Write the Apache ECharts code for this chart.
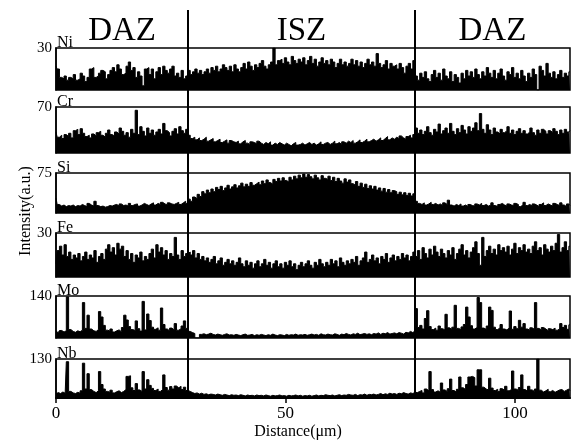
<!DOCTYPE html>
<html>
<head>
<meta charset="utf-8">
<script src="https://cdn.jsdelivr.net/npm/echarts@6/dist/echarts.min.js"></script>
<style>
html,body{margin:0;padding:0;background:#fff;}
#chart{width:576px;height:442px;}
</style>
</head>
<body>
<div id="chart"></div>
<script>
// ---------- data ----------
const STEP = 0.5;            // sampling step of the line scan (µm)
const xMax = 112;            // µm
const xTicks = [0, 50, 100];
const zoneBounds = [28.8, 78.2];
const zoneNames = ['DAZ', 'ISZ', 'DAZ'];
const elements = ['Ni', 'Cr', 'Si', 'Fe', 'Mo', 'Nb'];
const yMax = [30, 70, 75, 30, 140, 130];

const ni = [17,15,9,8,10,7,9,8,11,7,
 8,12,10,6,9,15,16,9,10,12,
 14,13,8,11,14,16,13,18,15,11,
 12,17,20,14,16,9,13,10,3,15,
 16,11,15,8,13,16,11,17,14,12,
 15,17,10,12,9,14,8,10,
 14,11,13,15,12,14,11,13,15,12,
 16,14,17,13,15,18,16,14,17,13,
 18,15,13,16,19,15,20,17,14,18,
 16,19,21,17,15,18,20,30,18,21,
 22,19,23,20,18,24,21,19,22,20,
 23,18,21,24,19,22,17,20,23,19,
 21,18,22,20,16,19,22,18,20,17,
 19,22,18,21,17,20,16,19,22,18,
 20,17,26,19,16,18,21,15,19,17,
 18,15,19,16,12,17,19,15,21,
 10,7,12,9,13,8,6,11,14,
 9,12,7,15,10,8,13,6,11,9,
 5,12,8,14,10,13,9,15,11,8,
 13,10,16,12,9,14,8,12,15,10,
 7,13,11,16,9,12,8,14,10,6,
 12,9,15,11,0,17,14,10,19,12,
 9,13,8,11,14,9,12,10,13];

const cr = [32,24,27,22,28,25,30,23,34,36,
 28,37,30,25,27,23,29,26,31,33,
 27,24,30,35,28,26,32,29,38,33,
 27,31,24,36,30,65,28,40,33,26,
 38,30,35,27,32,36,29,45,34,31,
 26,33,37,29,40,34,30,36,
 27,22,24,20,23,19,21,24,18,20,
 22,17,19,21,16,18,20,15,19,17,
 16,18,14,17,19,15,13,17,16,14,
 18,15,13,16,14,17,12,15,13,16,
 14,12,15,13,11,14,16,12,13,15,
 12,14,16,13,15,12,14,17,13,15,
 16,13,15,18,14,16,13,17,15,18,
 16,19,15,17,20,16,18,21,17,19,
 21,18,20,23,19,22,25,20,23,21,
 24,22,26,23,21,25,27,23,28,
 38,30,35,28,33,40,31,27,36,
 32,44,29,34,38,30,45,33,28,37,
 31,42,35,29,40,33,38,46,34,60,
 36,30,43,35,28,38,32,29,36,31,
 34,40,30,35,28,33,37,30,34,29,
 32,38,31,27,35,30,36,33,29,34,
 31,37,33,28,35,30,36,32,34];

const si = [28,16,13,15,12,14,13,15,12,14,
 13,16,14,12,18,15,13,22,14,12,
 13,11,12,14,13,15,16,13,17,14,
 15,13,18,14,16,17,13,15,18,16,
 14,17,19,15,18,16,20,17,15,19,
 17,16,18,20,16,19,22,18,
 26,22,30,27,35,31,40,36,43,38,
 45,40,48,44,50,42,47,52,45,49,
 53,47,51,56,49,54,50,57,52,55,
 58,53,60,55,62,57,54,63,59,65,
 60,66,61,58,67,62,69,64,71,66,
 73,67,72,68,64,71,66,62,70,65,
 63,69,61,67,59,65,60,56,64,58,
 62,55,52,59,50,56,48,54,46,51,
 45,50,43,47,41,46,39,44,38,42,
 40,35,39,34,38,33,37,32,36,
 22,18,16,19,15,17,20,16,18,
 15,17,14,19,16,24,15,13,16,14,
 17,13,15,12,16,14,13,17,15,18,
 14,16,13,15,19,14,12,16,18,15,
 13,17,15,14,18,16,12,15,20,14,
 16,13,17,15,12,16,19,14,17,15,
 13,18,16,14,19,15,12,17,14];

const fe = [9,18,21,15,22,14,17,12,15,13,
 16,11,14,17,12,15,13,18,10,14,
 16,12,19,22,17,20,15,23,19,21,
 14,18,12,16,10,15,13,17,11,14,
 12,16,19,13,22,17,20,15,18,12,
 16,14,27,15,12,18,14,16,
 17,15,18,13,16,12,14,11,13,10,
 12,14,9,11,13,8,10,12,9,11,
 8,10,13,9,7,11,8,10,6,9,
 11,7,9,12,8,10,6,9,11,7,
 9,6,10,8,11,7,9,5,8,10,
 7,9,11,8,6,10,8,12,9,7,
 10,8,12,9,11,7,13,10,8,11,
 9,12,10,14,8,11,13,17,10,12,
 15,11,13,9,14,12,16,10,13,15,
 11,14,12,16,13,15,11,14,17,
 14,18,12,20,16,13,19,15,21,
 17,14,19,16,13,18,15,20,12,16,
 19,22,15,18,13,17,20,24,16,8,
 27,14,18,21,16,19,15,22,18,20,
 17,21,15,19,23,16,20,18,22,17,
 19,16,21,24,18,20,15,22,19,17,
 21,18,23,29,17,20,24,18,21];

const mo = [22,18,25,20,24,137,28,22,19,24,
 21,26,118,32,76,30,24,22,28,88,
 70,42,26,23,30,20,24,27,21,35,
 76,60,38,28,25,57,31,23,122,27,
 80,58,36,29,34,26,100,45,30,24,
 33,27,48,26,31,40,57,32,
 22,18,15,0,0,12,14,11,13,16,
 12,10,13,11,9,12,14,10,11,9,
 12,10,8,11,13,9,10,12,8,11,
 9,12,10,8,11,9,13,10,8,11,
 10,8,12,9,11,10,13,9,11,10,
 12,9,11,13,10,12,9,14,11,10,
 13,11,10,14,12,9,13,11,15,12,
 10,14,12,16,11,13,15,12,14,11,
 15,13,17,12,16,14,18,13,15,17,
 14,18,16,13,19,17,22,18,24,
 98,35,42,30,65,91,38,28,33,
 26,40,31,27,79,34,29,36,109,32,
 28,37,45,103,70,41,30,35,135,118,
 33,29,40,103,92,36,28,34,45,30,
 27,33,90,29,38,31,59,36,48,30,
 26,34,29,118,32,27,35,30,24,31,
 28,33,26,30,48,35,42,29,44];

const nb = [14,18,15,20,16,121,22,17,15,19,
 16,24,116,30,81,28,22,18,24,88,
 45,30,22,19,26,17,21,24,18,22,
 28,72,74,34,25,48,27,22,88,30,
 61,42,32,25,30,22,28,77,35,26,
 38,30,40,34,39,28,36,25,
 22,18,15,17,13,16,12,14,11,13,
 12,10,13,11,9,12,10,8,11,9,
 10,8,11,9,7,10,8,9,7,10,
 8,9,7,10,8,6,9,7,8,10,
 7,8,6,9,7,8,10,7,9,6,
 8,7,9,6,8,10,7,9,8,11,
 9,8,10,7,9,11,8,10,9,12,
 10,9,12,8,11,10,13,9,12,11,
 13,10,12,15,11,14,12,16,13,15,
 12,16,14,18,15,13,17,15,19,
 18,22,25,17,30,24,88,28,20,
 24,19,50,27,22,31,63,25,20,29,
 70,34,28,45,70,72,68,40,94,94,
 36,30,27,66,33,25,29,22,31,26,
 39,24,28,90,30,26,35,77,28,23,
 39,27,22,30,130,26,20,24,29,21,
 25,19,23,27,28,22,26,30,24];

const profiles = [ni, cr, si, fe, mo, nb];

// ---------- layout / style ----------
const FONT = "'Liberation Serif', 'DejaVu Serif', serif";
const panelTop = [48, 107, 173, 233, 296, 359];
const panelHeight = [42, 46, 40, 44, 42, 39];
const LEFT = 56, RIGHT = 6;

profiles.forEach((p, k) => { if (p.length !== 225) console.error(elements[k] + ' length ' + p.length); });

const grids = panelTop.map((t, i) => ({
  left: LEFT, right: RIGHT, top: t, height: panelHeight[i],
  show: true, borderColor: '#000', borderWidth: 1.5, backgroundColor: 'transparent'
}));
grids.push({ left: LEFT, right: RIGHT, top: 10, height: 388 });

const xAxes = profiles.map((p, i) => {
  const last = i === profiles.length - 1;
  return {
    type: 'value', gridIndex: i, min: 0, max: xMax, interval: xTicks[1] - xTicks[0],
    axisLine: { show: last, onZero: false, lineStyle: { color: '#000', width: 2 } },
    axisTick: { show: last, length: 5, lineStyle: { color: '#000', width: 1.5 } },
    axisLabel: { show: last, showMaxLabel: false, color: '#000', fontSize: 17, fontFamily: FONT, margin: 7 },
    splitLine: { show: false },
    name: last ? 'Distance(μm)' : '',
    nameLocation: 'middle', nameGap: 26,
    nameTextStyle: { color: '#000', fontSize: 16, fontFamily: FONT, padding: [0, 30, 0, 0] }
  };
});
xAxes.push({ type: 'value', gridIndex: 6, min: 0, max: xMax, show: false });

const yAxes = profiles.map((p, i) => ({
  type: 'value', gridIndex: i, min: 0, max: yMax[i], interval: yMax[i],
  axisLine: { show: true, lineStyle: { color: '#000', width: 1.5 } },
  axisTick: { show: false },
  splitLine: { show: false },
  axisLabel: { showMinLabel: false, color: '#000', fontSize: 15, fontFamily: FONT, margin: 4 }
}));
yAxes.push({
  type: 'value', gridIndex: 6, min: 0, max: 1,
  axisLine: { show: false }, axisTick: { show: false }, axisLabel: { show: false }, splitLine: { show: false },
  name: 'Intensity(a.u.)', nameLocation: 'middle', nameGap: 22, nameRotate: 90,
  nameTextStyle: { color: '#000', fontSize: 16, fontFamily: FONT, padding: [0, 14, 0, 0] }
});

const series = profiles.map((p, i) => ({
  type: 'line', xAxisIndex: i, yAxisIndex: i, step: 'middle',
  symbol: 'none', silent: true,
  lineStyle: { color: '#000', width: 1 },
  areaStyle: { color: '#000', opacity: 1 },
  data: p.map((v, j) => [j * STEP, v])
}));

const zoneEdges = [0].concat(zoneBounds, [xMax]);
series.push({
  type: 'line', xAxisIndex: 6, yAxisIndex: 6, data: [[0, 0]], symbol: 'none',
  lineStyle: { opacity: 0 }, silent: true, z: 10,
  markLine: {
    silent: true, symbol: ['none', 'none'], animation: false,
    lineStyle: { color: '#000', width: 2, type: 'solid' },
    label: { show: false },
    data: zoneBounds.map(b => ({ xAxis: b }))
  },
  markArea: {
    silent: true, itemStyle: { color: 'rgba(0,0,0,0)' },
    label: { show: true, position: 'insideTop', distance: 5, color: '#000', fontSize: 33, fontFamily: FONT },
    data: zoneNames.map((n, k) => [{ name: n, xAxis: zoneEdges[k] }, { xAxis: zoneEdges[k + 1] }])
  }
});

// element names sitting on each panel's top border
const graphic = elements.map((el, i) => ({
  type: 'text', x: LEFT + 1, y: panelTop[i] + 3, z: 20,
  style: { text: el, fill: '#000', font: '16px ' + FONT, align: 'left', verticalAlign: 'bottom' }
}));

const chart = echarts.init(document.getElementById('chart'), null, { renderer: 'canvas' });
chart.setOption({
  animation: false,
  backgroundColor: '#fff',
  grid: grids,
  xAxis: xAxes,
  yAxis: yAxes,
  series: series,
  graphic: graphic
});
</script>
</body>
</html>
